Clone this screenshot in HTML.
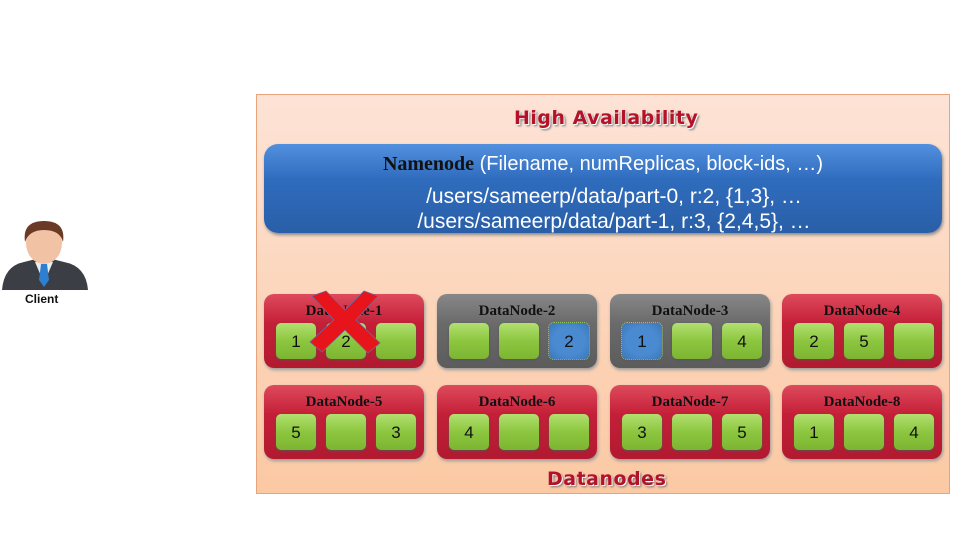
<!DOCTYPE html>
<html><head><meta charset="utf-8"><style>
body{margin:0;width:960px;height:541px;background:#fff;position:relative;overflow:hidden;font-family:"Liberation Sans",sans-serif}
.abs{position:absolute}
#outer{left:256px;top:94px;width:694px;height:400px;border:1px solid #e8a47a;background:linear-gradient(#fde3d6,#fbc9a3);box-sizing:border-box}
.title{font-family:"DejaVu Sans",sans-serif;font-weight:bold;color:#b5122a;font-size:19px;letter-spacing:0.5px;text-shadow:1px 1px 0 #fff,2px 2px 2px #777}
#nn{left:264px;top:144px;width:678px;height:89px;border-radius:14px;background:linear-gradient(#5391df,#2f6cbd 40%,#2a5fa8);box-shadow:1px 2px 3px #888;color:#fff;text-align:center}
.node{width:160px;height:74px;border-radius:10px;box-shadow:1px 2px 3px #999}
.red{background:linear-gradient(#de4a5c,#c41f38 40%,#b11a30)}
.gray{background:linear-gradient(#888,#6a6a6a 40%,#5c5c5c)}
.nl{position:absolute;top:9px;left:0;width:100%;text-align:center;font-family:"Liberation Serif",serif;font-weight:bold;font-size:15px;color:#111}
.b{position:absolute;top:29px;width:40px;height:36px;border-radius:5px;background:linear-gradient(#b2e070,#8cc63f 50%,#7db532);box-shadow:0 1px 2px #555;font-size:17px;line-height:38px;text-align:center;color:#111}
.bl{background:radial-gradient(#4a8ad0 55%,#3a76b8);outline:1px dotted #9c6}
</style></head><body>
<svg class="abs" style="left:0px;top:220px" width="90" height="72" viewBox="0 0 90 72">
<path d="M2 70 Q4 46 24 42 L44 37 L64 42 Q86 46 88 70 Z" fill="#3b3e44"/>
<path d="M35 42 L44 63 L53 42 Z" fill="#e8eef5"/>
<path d="M41 44 L47 44 L49 60 L44 67 L39 60 Z" fill="#2f7fd0"/>
<ellipse cx="44" cy="23" rx="18" ry="21" fill="#f2c2a4"/>
<path d="M25 22 Q22 1 44 1 Q66 1 63 22 Q60 10 44 10 Q29 10 25 22Z" fill="#6b3a26"/>
</svg>
<div class="abs" style="left:25px;top:292px;font-size:12px;font-weight:bold;color:#111">Client</div>
<div id="outer" class="abs"></div>
<div class="abs title" style="left:514px;top:107px">High Availability</div>
<div id="nn" class="abs">
<div style="margin-top:9px;font-size:20px"><span style="font-family:'Liberation Serif',serif;font-weight:bold;color:#111">Namenode</span> (Filename, numReplicas, block-ids, …)</div>
<div style="margin-top:8px;font-size:21px;line-height:25px;padding-left:22px">/users/sameerp/data/part-0, r:2, {1,3}, …<br>/users/sameerp/data/part-1, r:3, {2,4,5}, …</div>
</div>

<div class="abs node red" style="left:264px;top:294px"><div class="nl">DataNode-1</div><div class="b" style="left:12px">1</div><div class="b" style="left:62px">2</div><div class="b" style="left:112px"></div></div>
<div class="abs node gray" style="left:437px;top:294px"><div class="nl">DataNode-2</div><div class="b" style="left:12px"></div><div class="b" style="left:62px"></div><div class="b bl" style="left:112px">2</div></div>
<div class="abs node gray" style="left:610px;top:294px"><div class="nl">DataNode-3</div><div class="b bl" style="left:12px">1</div><div class="b" style="left:62px"></div><div class="b" style="left:112px">4</div></div>
<div class="abs node red" style="left:782px;top:294px"><div class="nl">DataNode-4</div><div class="b" style="left:12px">2</div><div class="b" style="left:62px">5</div><div class="b" style="left:112px"></div></div>

<div class="abs node red" style="left:264px;top:385px"><div class="nl">DataNode-5</div><div class="b" style="left:12px">5</div><div class="b" style="left:62px"></div><div class="b" style="left:112px">3</div></div>
<div class="abs node red" style="left:437px;top:385px"><div class="nl">DataNode-6</div><div class="b" style="left:12px">4</div><div class="b" style="left:62px"></div><div class="b" style="left:112px"></div></div>
<div class="abs node red" style="left:610px;top:385px"><div class="nl">DataNode-7</div><div class="b" style="left:12px">3</div><div class="b" style="left:62px"></div><div class="b" style="left:112px">5</div></div>
<div class="abs node red" style="left:782px;top:385px"><div class="nl">DataNode-8</div><div class="b" style="left:12px">1</div><div class="b" style="left:62px"></div><div class="b" style="left:112px">4</div></div>

<svg class="abs" style="left:308px;top:290px" width="74" height="64">
<polygon points="4,6 18,1 37,20 56,1 70,6 48,30 72,53 60,63 37,40 14,62 2,52 26,30" fill="#e8141c" stroke="#6a6aa0" stroke-width="0.8"/>
</svg>
<div class="abs title" style="left:547px;top:468px">Datanodes</div>
</body></html>
